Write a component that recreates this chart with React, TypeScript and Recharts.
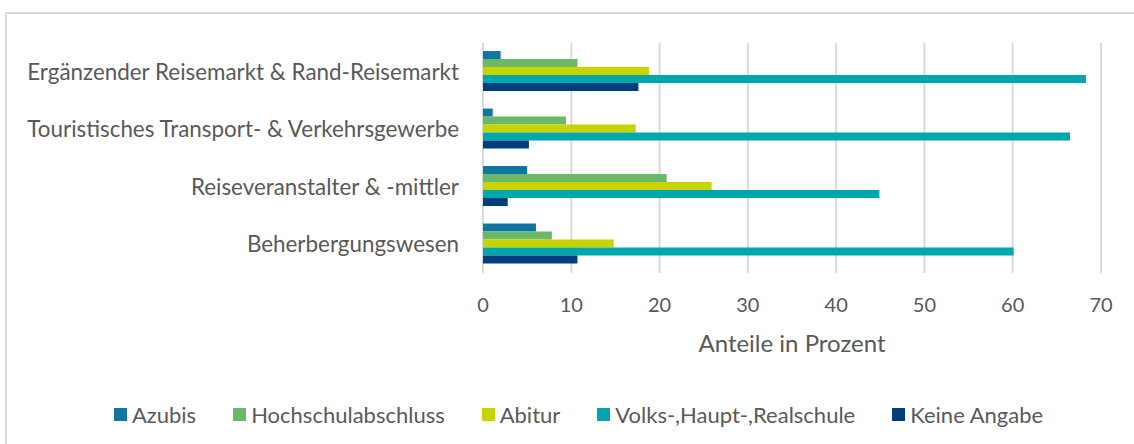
import React from 'react';
import { BarChart, Bar, XAxis, YAxis, CartesianGrid, Legend } from 'recharts';

const categories = [
  'Ergänzender Reisemarkt & Rand-Reisemarkt',
  'Touristisches Transport- & Verkehrsgewerbe',
  'Reiseveranstalter & -mittler',
  'Beherbergungswesen',
];
const azubis = [2.0, 1.1, 5.0, 6.0];
const hochschulabschluss = [10.7, 9.4, 20.8, 7.8];
const abitur = [18.8, 17.3, 25.9, 14.8];
const volksHauptRealschule = [68.3, 66.5, 44.9, 60.1];
const keineAngabe = [17.6, 5.2, 2.8, 10.7];
const xTicks = [0, 10, 20, 30, 40, 50, 60, 70];

const seriesKeys = ['azubis', 'hochschul', 'abitur', 'volks', 'keine'];
const seriesNames = ['Azubis', 'Hochschulabschluss', 'Abitur', 'Volks-,Haupt-,Realschule', 'Keine Angabe'];
const seriesColors = ['#0F76A1', '#6BB968', '#C8D400', '#00A8AE', '#023D7C'];
const seriesValues = [azubis, hochschulabschluss, abitur, volksHauptRealschule, keineAngabe];

const data = categories.map((name, i) => {
  const row: Record<string, string | number> = { name };
  seriesKeys.forEach((k, j) => {
    row[k] = seriesValues[j][i];
  });
  return row;
});

const FONT = 'Lato, "Open Sans", sans-serif';
const TEXT = '#595959';

const renderLegend = () => {
  return (
    <div
      style={{
        display: 'flex',
        justifyContent: 'center',
        alignItems: 'center',
        height: 30,
        paddingLeft: 23,
        fontFamily: FONT,
        fontSize: 22,
        color: TEXT,
      }}
    >
      {seriesNames.map((name, i) => (
        <div key={name} style={{ display: 'flex', alignItems: 'center', marginRight: i < seriesNames.length - 1 ? 37 : 0 }}>
          <span style={{ display: 'inline-block', width: 13, height: 13, background: seriesColors[i], marginRight: 5 }} />
          <span>{name}</span>
        </div>
      ))}
    </div>
  );
};

export default function App() {
  return (
    <div style={{ position: 'absolute', left: 0, top: 0, width: 1134, height: 444, background: '#fff', fontFamily: FONT }}>
      <div
        style={{
          position: 'absolute',
          left: 5,
          top: 12,
          width: 1134,
          height: 444,
          borderTop: '2px solid #d9d9d9',
          borderLeft: '2px solid #d9d9d9',
          boxSizing: 'border-box',
        }}
      />
      <div style={{ position: 'absolute', left: 0, top: 0 }}>
        <BarChart
          width={1134}
          height={444}
          data={data}
          layout="vertical"
          margin={{ top: 43, right: 33, bottom: 15, left: 0 }}
          barCategoryGap="14%"
          barGap={0}
        >
          <CartesianGrid horizontal={false} vertical={true} stroke="#d9d9d9" strokeWidth={2} />
          <XAxis
            type="number"
            domain={[0, 70]}
            ticks={xTicks}
            axisLine={false}
            tickLine={false}
            tickSize={0}
            tickMargin={25}
            height={126}
            tick={{ fill: TEXT, fontSize: 20, fontFamily: FONT }}
            label={{ value: 'Anteile in Prozent', position: 'insideTop', offset: 62, fill: TEXT, fontSize: 24, fontFamily: FONT }}
          />
          <YAxis
            type="category"
            dataKey="name"
            width={483}
            axisLine={false}
            tickLine={false}
            tickSize={0}
            tickMargin={24}
            tick={{ fill: TEXT, fontSize: 22.4, fontFamily: FONT }}
          />
          <Legend verticalAlign="bottom" height={30} content={renderLegend} wrapperStyle={{ left: 0, width: 1134 }} />
          {seriesKeys.map((k, j) => (
            <Bar key={k} dataKey={k} name={seriesNames[j]} fill={seriesColors[j]} isAnimationActive={false} />
          ))}
        </BarChart>
      </div>
    </div>
  );
}
